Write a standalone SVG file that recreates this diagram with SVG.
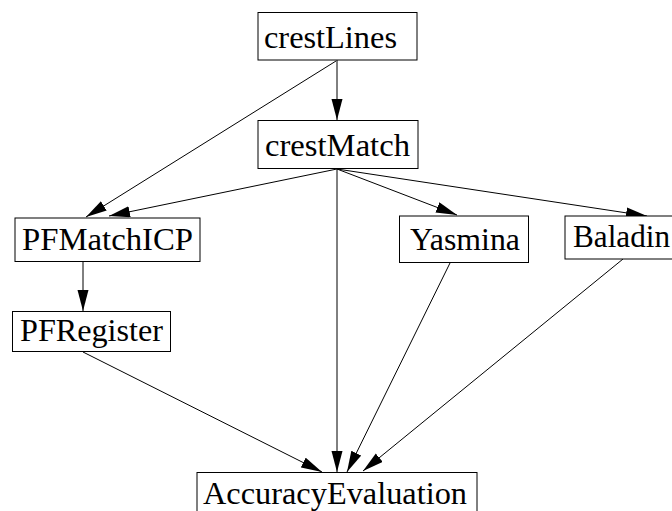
<svg xmlns="http://www.w3.org/2000/svg" width="672" height="511" viewBox="0 0 672 511">
  <style>
    .box { fill: #ffffff; stroke: #000000; stroke-width: 1; }
    .lbl { font-family: "Liberation Serif", "Times New Roman", serif; font-size: 32px; fill: #000000; }
    .edge { fill: none; stroke: #000000; stroke-width: 1; marker-end: url(#arrow); }
  </style>
  <defs>
    <marker id="arrow" markerUnits="userSpaceOnUse" markerWidth="22" markerHeight="12" refX="21" refY="5.5" orient="auto">
      <path d="M0,0 L21,5.5 L0,11 Z" fill="#000000"/>
    </marker>
  </defs>
  <rect width="672" height="511" fill="#ffffff"/>
  <g id="connectors">
    <path class="edge" d="M337,60 L337,120"/>
    <path class="edge" d="M336,61 L86,217"/>
    <path class="edge" d="M337,169 L109,216"/>
    <path class="edge" d="M337,169 L337,472"/>
    <path class="edge" d="M337,169 L457,215"/>
    <path class="edge" d="M337,169 L647,216"/>
    <path class="edge" d="M83,262 L83,311"/>
    <path class="edge" d="M83,352 L322,472"/>
    <path class="edge" d="M450,263 L347,472"/>
    <path class="edge" d="M623,259 L363,471"/>
  </g>
  <g id="crestLines">
    <rect class="box" x="258" y="12.5" width="159" height="47.5"/>
    <text class="lbl" x="264" y="48" textLength="133" lengthAdjust="spacingAndGlyphs">crestLines</text>
  </g>
  <g id="crestMatch">
    <rect class="box" x="258" y="120.5" width="160" height="48"/>
    <text class="lbl" x="265" y="156" textLength="145" lengthAdjust="spacingAndGlyphs">crestMatch</text>
  </g>
  <g id="PFMatchICP">
    <rect class="box" x="15" y="218" width="185" height="43.5"/>
    <text class="lbl" x="22" y="250" textLength="171" lengthAdjust="spacingAndGlyphs">PFMatchICP</text>
  </g>
  <g id="Yasmina">
    <rect class="box" x="399.5" y="216" width="129" height="46.5"/>
    <text class="lbl" x="410" y="250" textLength="110" lengthAdjust="spacingAndGlyphs">Yasmina</text>
  </g>
  <g id="Baladin">
    <rect class="box" x="565" y="216" width="120" height="43"/>
    <text class="lbl" x="573" y="247" textLength="97" lengthAdjust="spacingAndGlyphs">Baladin</text>
  </g>
  <g id="PFRegister">
    <rect class="box" x="12.5" y="311.5" width="158" height="40"/>
    <text class="lbl" x="20" y="341" textLength="143" lengthAdjust="spacingAndGlyphs">PFRegister</text>
  </g>
  <g id="AccuracyEvaluation">
    <rect class="box" x="197" y="472.5" width="280" height="45"/>
    <text class="lbl" x="203" y="504" textLength="264" lengthAdjust="spacingAndGlyphs">AccuracyEvaluation</text>
  </g>
</svg>
